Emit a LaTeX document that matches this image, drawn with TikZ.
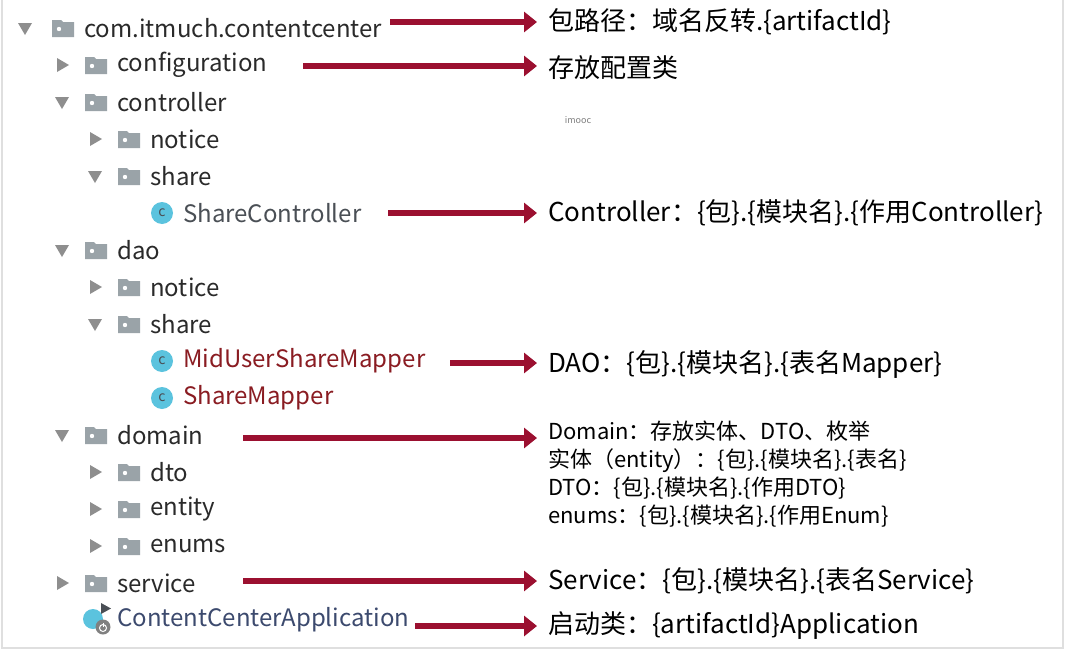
\documentclass[tikz,border=0pt]{standalone}
\usepackage{fontspec}
\setmainfont{Noto Sans CJK SC}
\usetikzlibrary{arrows.meta}
\definecolor{arr}{HTML}{9B1030}
\definecolor{fold}{HTML}{9AA3A8}
\definecolor{tri}{HTML}{8E8E8E}
\definecolor{txt}{HTML}{2A2A2A}
\definecolor{cls}{HTML}{8A1C22}
\definecolor{ctl}{HTML}{4A4F55}
\definecolor{app}{HTML}{3C4A6E}
\definecolor{cico}{HTML}{5BC3DE}
\tikzset{
  tree/.style={anchor=west,inner sep=0,font=\fontsize{24}{26}\selectfont,text=txt},
  lab/.style={anchor=west,inner sep=0,font=\fontsize{26}{28}\selectfont,text=black},
  small/.style={anchor=west,inner sep=0,font=\fontsize{22}{28}\selectfont,text=black,align=left},
  arrw/.style={draw=arr,line width=6.5pt,-{Triangle[length=13pt,width=20pt]},fill=arr},
  down/.pic={\fill[tri] (-7,-5) -- (7,-5) -- (0,7) -- cycle;},
  right/.pic={\fill[tri] (-5,-7) -- (-5,7) -- (7,0) -- cycle;},
  folder/.pic={\fill[fold] (-11,-8) -- (-11,9) -- (11,9) -- (11,-6) -- (0,-6) -- (-2,-8) -- cycle;
     \fill[white] (-4,1) circle (2.2);},
  cicon/.pic={\fill[cico] (0,0) circle (11); \node[font=\fontsize{14}{14}\selectfont,text=ctl,inner sep=0] at (0,0) {c};}
}
\begin{document}
\begin{tikzpicture}[x=1pt,y=-1pt]
\useasboundingbox (0,0) rectangle (1085,653);
\fill[white] (0,0) rectangle (1085,653);
\draw[gray!25,line width=1.5] (2,0) -- (2,648) -- (1063,648) -- (1063,0);
% tree
\pic at (25,28) {down}; \pic at (63,28) {folder}; \node[tree] (n0) at (84,28) {com.itmuch.contentcenter};
\pic at (62,65) {right}; \pic at (96,65) {folder}; \node[tree] (n1) at (117,65) {configuration};
\pic at (62,102) {down}; \pic at (96,102) {folder}; \node[tree] (n2) at (117,102) {controller};
\pic at (95,139) {right}; \pic at (129,139) {folder}; \node[tree] (n3) at (150,139) {notice};
\pic at (95,176) {down}; \pic at (129,176) {folder}; \node[tree] (n4) at (150,176) {share};
\pic at (162,213) {cicon}; \node[tree,text=ctl] (n5) at (183,213) {ShareController};
\pic at (62,250) {down}; \pic at (96,250) {folder}; \node[tree] (n6) at (117,250) {dao};
\pic at (95,287) {right}; \pic at (129,287) {folder}; \node[tree] (n7) at (150,287) {notice};
\pic at (95,324) {down}; \pic at (129,324) {folder}; \node[tree] (n8) at (150,324) {share};
\pic at (162,361) {cicon}; \node[tree,text=cls] (n9) at (183,361) {MidUserShareMapper};
\pic at (162,398) {cicon}; \node[tree,text=cls] (n10) at (183,398) {ShareMapper};
\pic at (62,435) {down}; \pic at (96,435) {folder}; \node[tree] (n11) at (117,435) {domain};
\pic at (95,472) {right}; \pic at (129,472) {folder}; \node[tree] (n12) at (150,472) {dto};
\pic at (95,509) {right}; \pic at (129,509) {folder}; \node[tree] (n13) at (150,509) {entity};
\pic at (95,546) {right}; \pic at (129,546) {folder}; \node[tree] (n14) at (150,546) {enums};
\pic at (62,583) {right}; \pic at (96,583) {folder}; \node[tree] (n15) at (117,583) {service};
\fill[cico] (93,619) circle (10);
\fill[ctl] (101,614) -- (101,603) -- (111,608.5) -- cycle;
\fill[gray] (103,627) circle (7.5); \draw[white,line width=1] (103,628) circle (3.5); \draw[white,line width=1] (103,623) -- (103,627);
\node[tree,text=app] (n16) at (117,620) {ContentCenterApplication};
\node[font=\fontsize{9}{9}\selectfont,text=gray,inner sep=0] at (578,120) {imooc};
% labels
\node[lab] (l0) at (548,22) {包路径：域名反转.\{artifactId\}};
\node[lab] (l1) at (548,68) {存放配置类};
\node[lab] (l2) at (548,213) {Controller：\{包\}.\{模块名\}.\{作用Controller\}};
\node[lab] (l3) at (548,364) {DAO：\{包\}.\{模块名\}.\{表名Mapper\}};
\node[small,anchor=north west] (l4) at (548,421) {Domain：存放实体、DTO、枚举\\实体（entity）：\{包\}.\{模块名\}.\{表名\}\\DTO：\{包\}.\{模块名\}.\{作用DTO\}\\enums：\{包\}.\{模块名\}.\{作用Enum\}};
\node[lab] (l5) at (548,581) {Service：\{包\}.\{模块名\}.\{表名Service\}};
\node[lab] (l6) at (548,626) {启动类：\{artifactId\}Application};
% arrows
\coordinate (e0) at (537,22); \coordinate (e1) at (537,66); \coordinate (e2) at (537,213);
\coordinate (e3) at (537,363); \coordinate (e4) at (537,438); \coordinate (e5) at (537,581); \coordinate (e6) at (537,626);
\draw[arrw] (390,22) -- (e0);
\draw[arrw] (303,66) -- (e1);
\draw[arrw] (388,213) -- (e2);
\draw[arrw] (450,363) -- (e3);
\draw[arrw] (243,438) -- (e4);
\draw[arrw] (243,581) -- (e5);
\draw[arrw] (415,626) -- (e6);
\end{tikzpicture}
\end{document}
